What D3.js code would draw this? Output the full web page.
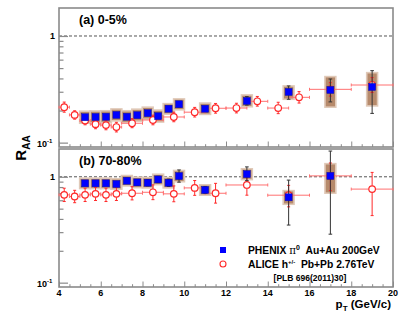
<!DOCTYPE html>
<html><head><meta charset="utf-8">
<script src="https://cdn.jsdelivr.net/npm/d3@7"></script>
<style>
body{margin:0;background:#fff}
svg{display:block}
text{font-family:"Liberation Sans",Arial,Helvetica,sans-serif;font-weight:bold;fill:#000}
</style>
</head><body>
<svg id="c" width="407" height="316"></svg>
<script>
// ---------- data ----------
const panelTitles = ["(a) 0-5%", "(b) 70-80%"];
const xTickLabels = [4, 6, 8, 10, 12, 14, 16, 18, 20];

// PHENIX pi0 Au+Au 200 GeV, 0-5%
const phenixAPt   = [5.25,5.75,6.25,6.75,7.25,7.75,8.25,8.75,9.25,9.75,11,13,15,17,19];
const phenixAVal  = [0.173,0.174,0.175,0.182,0.175,0.181,0.189,0.177,0.208,0.229,0.208,0.246,0.299,0.312,0.333];
const phenixAStatLo = [0.168,0.169,0.170,0.176,0.169,0.175,0.182,0.171,0.199,0.216,0.199,0.225,0.255,0.241,0.188];
const phenixAStatHi = [0.178,0.179,0.180,0.188,0.181,0.187,0.196,0.183,0.217,0.243,0.217,0.270,0.340,0.395,0.473];
const phenixASysLo  = [0.152,0.153,0.154,0.160,0.154,0.159,0.166,0.156,0.185,0.203,0.184,0.217,0.255,0.215,0.221];
const phenixASysHi  = [0.197,0.198,0.199,0.207,0.199,0.206,0.215,0.202,0.232,0.257,0.235,0.280,0.340,0.416,0.453];

// PHENIX pi0 Au+Au 200 GeV, 70-80%
const phenixBPt   = [5.25,5.75,6.25,6.75,7.25,7.75,8.25,8.75,9.25,9.75,11,13,15,17];
const phenixBVal  = [0.867,0.867,0.867,0.855,0.918,0.885,0.879,0.944,0.879,1.015,0.751,1.06,0.64,1.02];
const phenixBStatLo = [0.83,0.83,0.83,0.82,0.87,0.83,0.82,0.88,0.81,0.89,0.70,0.92,0.35,0.287];
const phenixBStatHi = [0.90,0.90,0.90,0.89,0.97,0.94,0.94,1.01,0.95,1.16,0.81,1.24,0.93,1.75];
const phenixBSysLo  = [0.774,0.774,0.774,0.763,0.820,0.790,0.785,0.843,0.785,0.898,0.67,0.94,0.55,0.70];
const phenixBSysHi  = [0.971,0.971,0.971,0.958,1.028,0.991,0.984,1.057,0.984,1.147,0.84,1.19,0.74,1.33];

// ALICE h+/- Pb+Pb 2.76 TeV, 0-5%
const aliceAPt   = [4.25,4.75,5.25,5.75,6.25,6.75,7.5,8.5,9.5,10.5,11.5,12.5,13.5,14.5,15.5,17,19];
const aliceAHalf = [0.25,0.25,0.25,0.25,0.25,0.25,0.5,0.5,0.5,0.5,0.5,0.5,0.5,0.5,0.5,1,1];
const aliceAVal  = [0.215,0.182,0.161,0.149,0.146,0.140,0.152,0.163,0.174,0.193,0.210,0.211,0.244,0.211,0.266,0.316,0.347];
const aliceALo   = [0.193,0.166,0.147,0.135,0.132,0.126,0.138,0.147,0.157,0.174,0.189,0.190,0.220,0.187,0.235,0.273,0.295];
const aliceAHi   = [0.240,0.199,0.176,0.165,0.162,0.155,0.168,0.181,0.193,0.214,0.233,0.234,0.271,0.239,0.301,0.365,0.408];

// ALICE h+/- Pb+Pb 2.76 TeV, 70-80%
const aliceBPt   = [4.25,4.75,5.25,5.75,6.25,6.75,7.5,8.5,9.5,10.5,11.5,13,15,17,19];
const aliceBHalf = [0.25,0.25,0.25,0.25,0.25,0.25,0.5,0.5,0.5,0.5,0.5,1,1,1,1];
const aliceBVal  = [0.675,0.651,0.675,0.690,0.675,0.690,0.699,0.714,0.690,0.785,0.699,0.837,0.67,1.02,0.765];
const aliceBLo   = [0.584,0.569,0.584,0.597,0.584,0.597,0.605,0.608,0.581,0.668,0.564,0.67,0.52,0.74,0.43];
const aliceBHi   = [0.780,0.745,0.780,0.797,0.780,0.797,0.807,0.839,0.820,0.922,0.867,0.99,0.83,1.35,1.10];

// ---------- drawing ----------
const svg = d3.select("#c");
const X0 = 59, X1 = 393;
const x = d3.scaleLinear().domain([4, 20]).range([X0, X1]);

const panels = [
  {top: 8,   bottom: 147, title: panelTitles[0],
   ph: {pt: phenixAPt, v: phenixAVal, sl: phenixAStatLo, sh: phenixAStatHi, yl: phenixASysLo, yh: phenixASysHi},
   al: {pt: aliceAPt, w: aliceAHalf, v: aliceAVal, lo: aliceALo, hi: aliceAHi}},
  {top: 149, bottom: 287, title: panelTitles[1],
   ph: {pt: phenixBPt, v: phenixBVal, sl: phenixBStatLo, sh: phenixBStatHi, yl: phenixBSysLo, yh: phenixBSysHi},
   al: {pt: aliceBPt, w: aliceBHalf, v: aliceBVal, lo: aliceBLo, hi: aliceBHi}}
];

const frameCol = "#8a8a8a";
const boxCol = "#b68a6b", boxHalo = "#e0c9b8";
const redCol = "#ff2a2a", redLight = "#ff7070";

panels.forEach((p, pi) => {
  const y = d3.scaleLog().domain([0.091, 1.83]).range([p.bottom, p.top]);
  const g = svg.append("g");

  // dashed unity line
  g.append("line").attr("x1", X0).attr("x2", X1).attr("y1", y(1)).attr("y2", y(1))
    .attr("stroke", "#555").attr("stroke-width", 1).attr("stroke-dasharray", "3,2");

  // axes ticks (inward)
  const yMajor = [0.1, 1];
  const yMinor = [0.2,0.3,0.4,0.5,0.6,0.7,0.8,0.9];
  const ax = g.append("g").attr("transform", `translate(${X0},0)`);
  ax.call(d3.axisLeft(y).tickValues(yMajor).tickSize(-9).tickFormat(""));
  ax.append("g").call(d3.axisLeft(y).tickValues(yMinor).tickSize(-4.5).tickFormat(""));
  ax.selectAll("path.domain").remove();
  ax.selectAll("line").attr("stroke", frameCol).attr("stroke-width", 1.2);

  const xMajor = xTickLabels;
  const xMinor = d3.range(4.5, 20, 0.5).filter(v => v % 2 !== 0);
  const bx = g.append("g").attr("transform", `translate(0,${p.bottom})`);
  bx.call(d3.axisBottom(x).tickValues(xMajor).tickSize(-5.5).tickFormat(""));
  bx.append("g").call(d3.axisBottom(x).tickValues(xMinor).tickSize(-2.8).tickFormat(""));
  bx.selectAll("path.domain").remove();
  bx.selectAll("line").attr("stroke", frameCol).attr("stroke-width", 1);

  // frame
  g.append("rect").attr("x", X0).attr("y", p.top).attr("width", X1 - X0).attr("height", p.bottom - p.top)
    .attr("fill", "none").attr("stroke", frameCol).attr("stroke-width", 1.6);

  // y tick labels
  g.append("text").attr("x", 55).attr("y", y(1) + 3.5).attr("text-anchor", "end")
    .attr("font-size", 9).text("1");
  const t10 = g.append("text").attr("x", 37).attr("y", y(0.1) + 4.5).attr("font-size", 9);
  t10.append("tspan").text("10");
  t10.append("tspan").attr("font-size", 6).attr("dy", -4).text("-1");

  // title
  g.append("text").attr("x", 79).attr("y", p.top + 16).attr("font-size", 12.5).text(p.title);

  // PHENIX systematic boxes
  const hw = 0.26;
  g.append("g").selectAll("rect").data(p.ph.pt).join("rect")
    .attr("x", d => x(d - hw)).attr("width", d => x(d + hw) - x(d - hw))
    .attr("y", (d, i) => y(p.ph.yh[i])).attr("height", (d, i) => y(p.ph.yl[i]) - y(p.ph.yh[i]))
    .attr("fill", boxCol).attr("stroke", boxHalo).attr("stroke-width", 1.6);

  // ALICE error bars
  const al = g.append("g");
  p.al.pt.forEach((d, i) => {
    const cx = x(d), cy = y(p.al.v[i]);
    const xl = x(d - p.al.w[i]), xr = x(d + p.al.w[i]);
    al.append("line").attr("x1", xl).attr("x2", xr).attr("y1", cy).attr("y2", cy)
      .attr("stroke", redLight).attr("stroke-width", 1);
    [xl, xr].forEach(xx => al.append("line").attr("x1", xx).attr("x2", xx).attr("y1", cy - 1.5).attr("y2", cy + 1.5)
      .attr("stroke", redLight).attr("stroke-width", 1));
    const yt = y(p.al.hi[i]), yb = y(p.al.lo[i]);
    al.append("line").attr("x1", cx).attr("x2", cx).attr("y1", yt).attr("y2", yb)
      .attr("stroke", redCol).attr("stroke-width", 1);
    [yt, yb].forEach(yy => al.append("line").attr("x1", cx - 1.5).attr("x2", cx + 1.5).attr("y1", yy).attr("y2", yy)
      .attr("stroke", redCol).attr("stroke-width", 1));
  });
  al.selectAll("circle.m").data(p.al.pt).join("circle").attr("class", "m")
    .attr("cx", d => x(d)).attr("cy", (d, i) => y(p.al.v[i])).attr("r", 3.3)
    .attr("fill", "#fff").attr("stroke", redCol).attr("stroke-width", 1.2);

  // PHENIX stat bars
  const ps = g.append("g");
  p.ph.pt.forEach((d, i) => {
    const cx = x(d), yt = y(p.ph.sh[i]), yb = y(p.ph.sl[i]);
    ps.append("line").attr("x1", cx).attr("x2", cx).attr("y1", yt).attr("y2", yb)
      .attr("stroke", "#333").attr("stroke-width", 1);
    [yt, yb].forEach(yy => ps.append("line").attr("x1", cx - 1.8).attr("x2", cx + 1.8).attr("y1", yy).attr("y2", yy)
      .attr("stroke", "#333").attr("stroke-width", 1));
  });
  // PHENIX markers
  const ms = 7;
  g.append("g").selectAll("rect").data(p.ph.pt).join("rect")
    .attr("x", d => x(d) - ms / 2).attr("y", (d, i) => y(p.ph.v[i]) - ms / 2)
    .attr("width", ms).attr("height", ms).attr("fill", "#0000ff").attr("stroke", "#1010a0").attr("stroke-width", 0.5);
});

// x tick labels
svg.append("g").selectAll("text").data(xTickLabels).join("text")
  .attr("x", d => x(d)).attr("y", 296).attr("text-anchor", "middle").attr("font-size", 9).text(d => d);

// x-axis title
const xt = svg.append("text").attr("x", 391).attr("y", 307.5).attr("text-anchor", "end").attr("font-size", 11.5);
xt.append("tspan").text("p");
xt.append("tspan").attr("font-size", 8).attr("dy", 3).text("T");
xt.append("tspan").attr("dy", -3).text(" (GeV/c)");

// y-axis title
const yt = svg.append("text").attr("transform", "translate(26,148) rotate(-90)")
  .attr("text-anchor", "middle").attr("font-size", 15);
yt.append("tspan").text("R");
yt.append("tspan").attr("font-size", 10).attr("dy", 4).text("AA");

// legend
svg.append("rect").attr("x", 220).attr("y", 247).attr("width", 6).attr("height", 6).attr("fill", "#0000ff");
svg.append("circle").attr("cx", 223).attr("cy", 264).attr("r", 3).attr("fill", "#fff").attr("stroke", redCol).attr("stroke-width", 1.1);
const l1 = svg.append("text").attr("x", 248).attr("y", 253.5).attr("font-size", 10.3).attr("xml:space", "preserve");
l1.append("tspan").text("PHENIX ");
l1.append("tspan").attr("font-weight", "normal").attr("font-family", "DejaVu Serif").text("\u03C0");
l1.append("tspan").attr("font-size", 7).attr("dy", -4).text("0");
l1.append("tspan").attr("dy", 4).text("  Au+Au 200GeV");
const l2 = svg.append("text").attr("x", 248).attr("y", 267.5).attr("font-size", 10.3).attr("xml:space", "preserve");
l2.append("tspan").text("ALICE h");
l2.append("tspan").attr("font-size", 6).attr("dy", -4).text("+/-");
l2.append("tspan").attr("dy", 4).text("  Pb+Pb 2.76TeV");
svg.append("text").attr("x", 310).attr("y", 281).attr("text-anchor", "middle").attr("font-size", 8.5).text("[PLB 696(2011)30]");
</script>
</body></html>
